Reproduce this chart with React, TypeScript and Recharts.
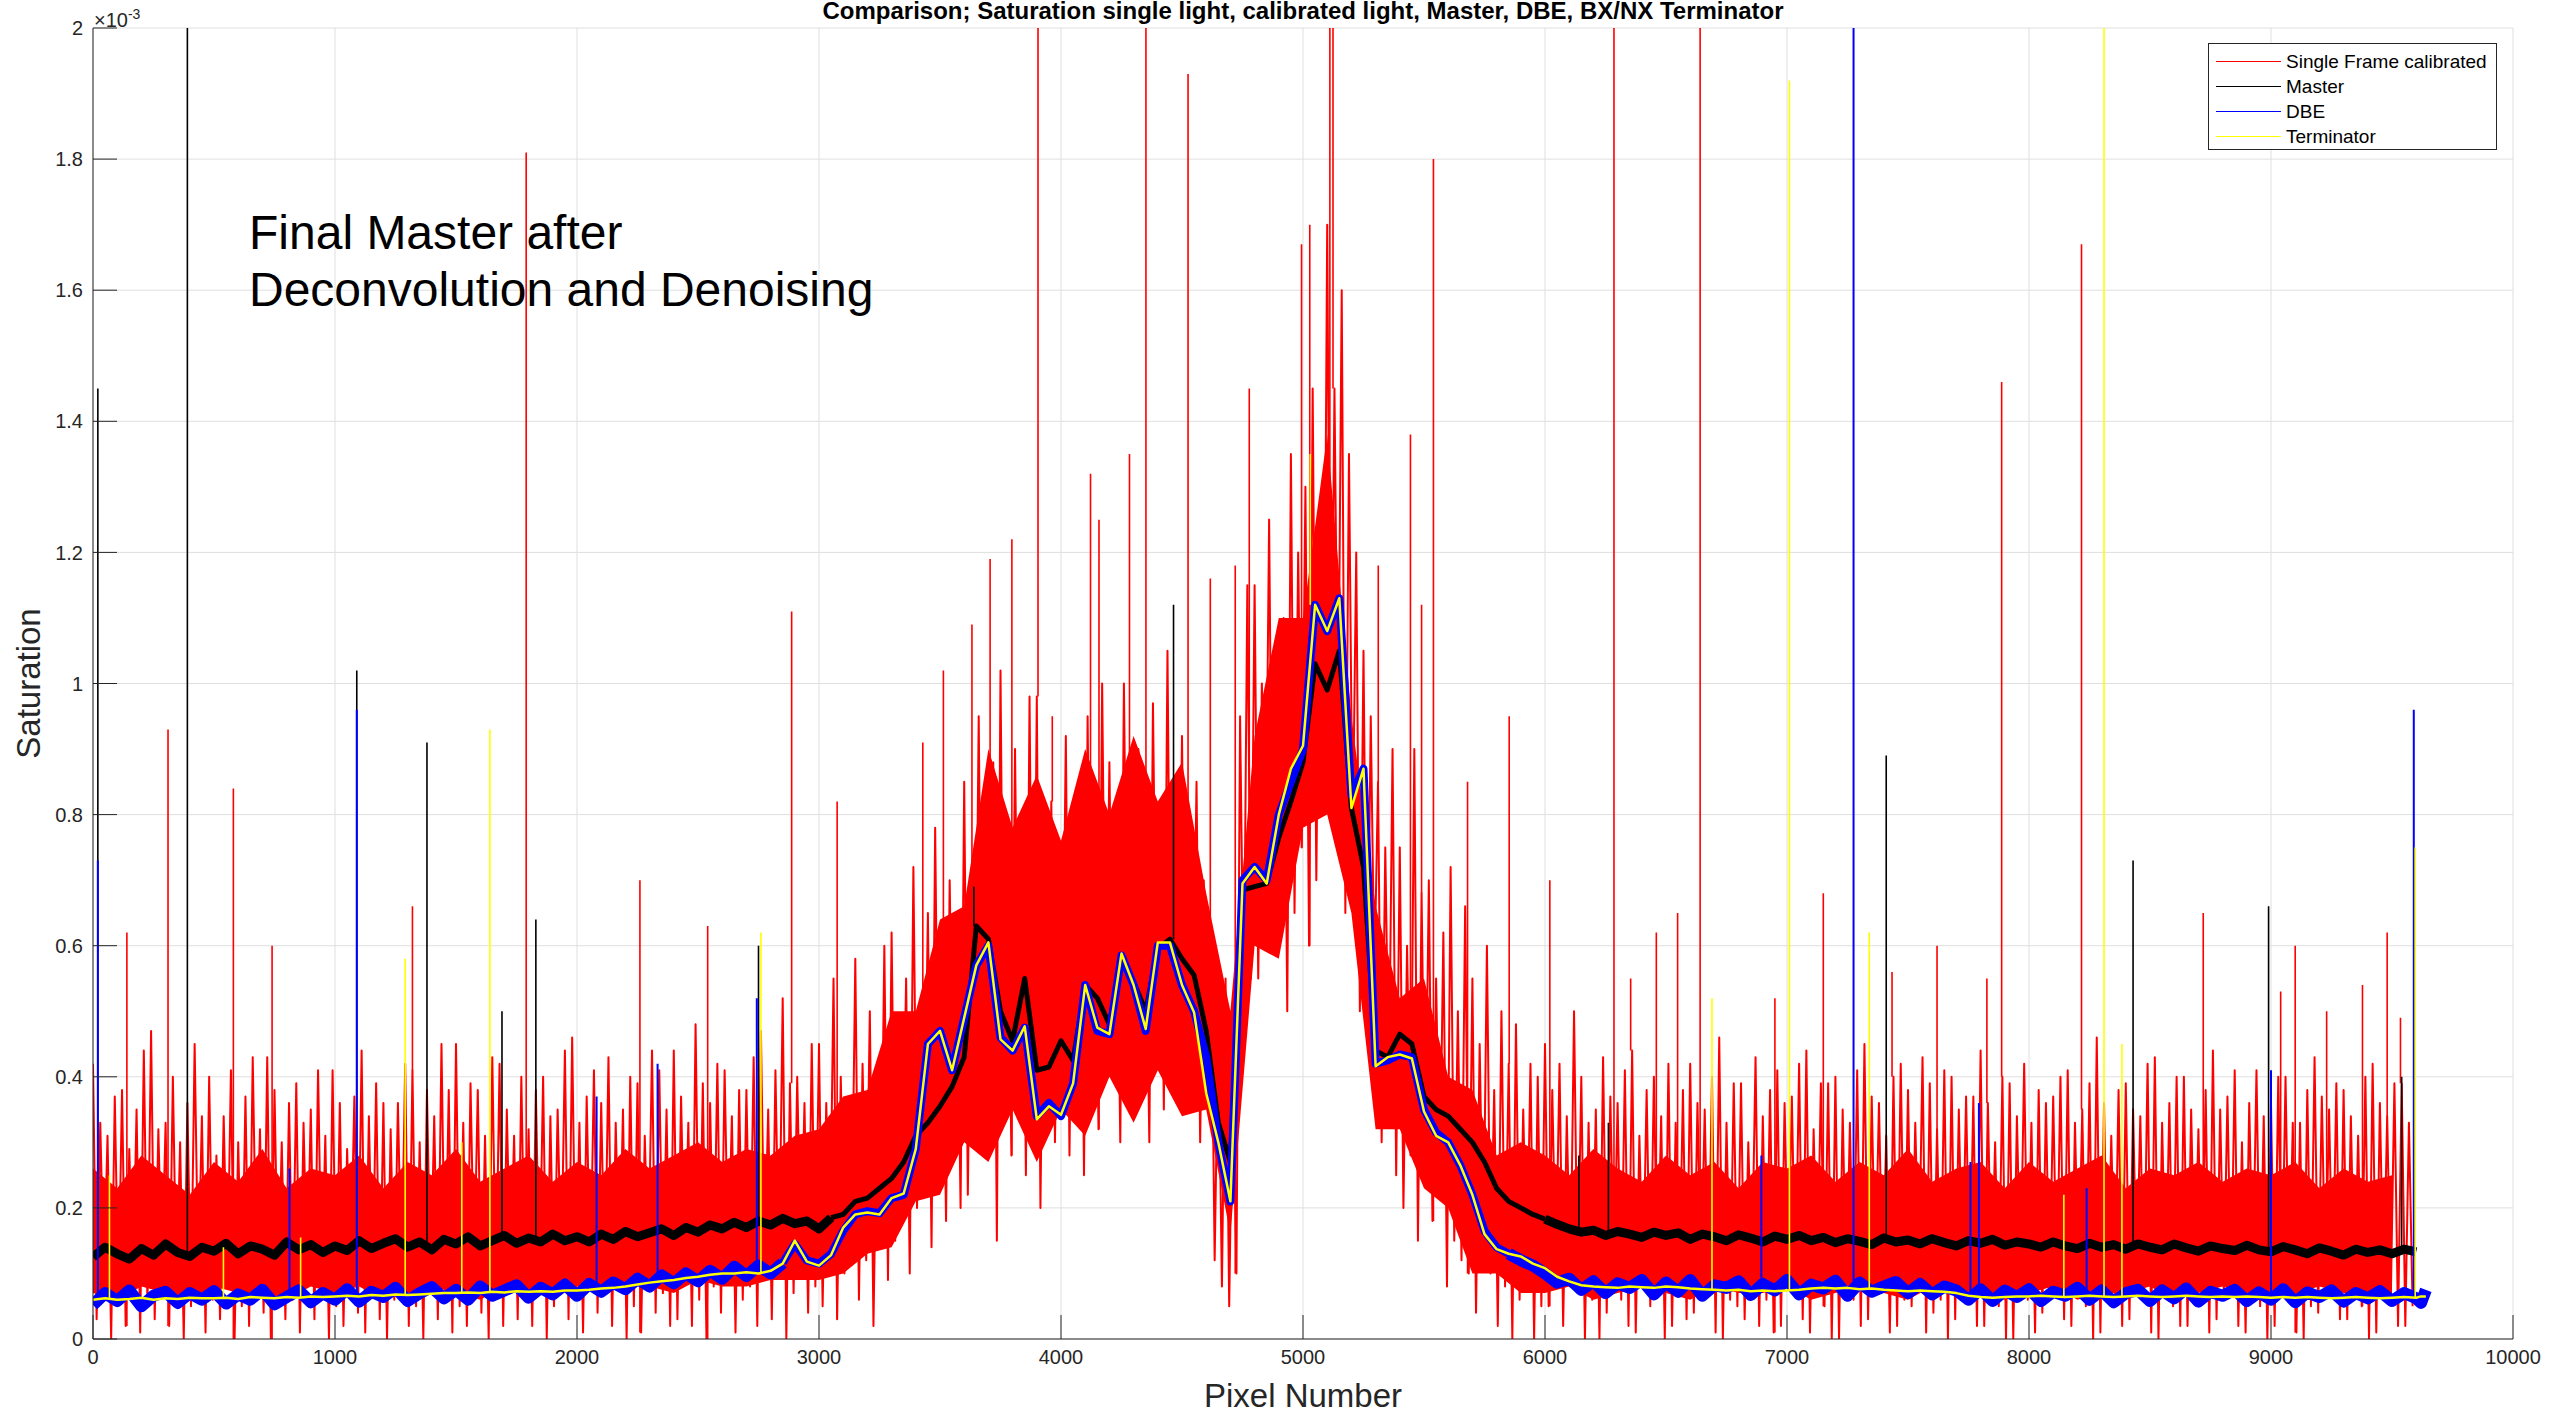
import React from "react";
import {
  ComposedChart,
  Line,
  Area,
  XAxis,
  YAxis,
  CartesianGrid,
  Legend,
  Label,
} from "recharts";

const W = 2554;
const H = 1415;
const FONT = '"Liberation Sans", Arial, Helvetica, sans-serif';
const AXIS = "#262626";
const GRID = "#dfdfdf";

// axis ticks (pixel number / saturation in 1e-3)
const xTicks = [0, 1000, 2000, 3000, 4000, 5000, 6000, 7000, 8000, 9000, 10000];
const yTicks = [0, 0.2, 0.4, 0.6, 0.8, 1, 1.2, 1.4, 1.6, 1.8, 2];

// legend order
const seriesNames = ["Single Frame calibrated", "Master", "DBE", "Terminator"];

// sampling steps (pixel numbers) of the value lists below
const RED_STEP = 15;
const BAND_STEP = 100;
const LINE_STEP = 50;

// Single Frame calibrated, x = 0..9585 every 15 px (values x1e-3)
const singleFrame = [
  0.42, 0.03, 0.33, 0.09, 0.31, 0.0, 0.37, 0.06, 0.38, 0.02, 0.29, 0.08, 0.35, 0.01, 0.44, 0.05, 0.47, 0.03, 0.32, 0.1,
  0.33, 0.02, 0.4, 0.07, 0.3, 0.0, 0.36, 0.05, 0.45, 0.09, 0.34, 0.01, 0.4, 0.06, 0.28, 0.03, 0.34, 0.08, 0.41, 0.0,
  0.3, 0.05, 0.37, 0.02, 0.43, 0.1, 0.32, 0.04, 0.43, 0.0, 0.38, 0.07, 0.3, 0.03, 0.36, 0.06, 0.39, 0.01, 0.33, 0.09,
  0.35, 0.03, 0.41, 0.08, 0.31, 0.0, 0.41, 0.05, 0.36, 0.02, 0.29, 0.1, 0.37, 0.04, 0.44, 0.01, 0.34, 0.07, 0.39, 0.03,
  0.36, 0.0, 0.32, 0.06, 0.36, 0.09, 0.42, 0.02, 0.41, 0.05, 0.3, 0.0, 0.38, 0.08, 0.34, 0.03, 0.45, 0.06, 0.38, 0.01,
  0.45, 0.05, 0.33, 0.02, 0.39, 0.1, 0.38, 0.04, 0.31, 0.0, 0.43, 0.07, 0.42, 0.02, 0.35, 0.09, 0.31, 0.03, 0.4, 0.06,
  0.32, 0.02, 0.38, 0.08, 0.4, 0.0, 0.34, 0.05, 0.35, 0.1, 0.44, 0.03, 0.46, 0.06, 0.33, 0.01, 0.37, 0.08, 0.41, 0.04,
  0.36, 0.07, 0.43, 0.02, 0.33, 0.09, 0.35, 0.0, 0.4, 0.05, 0.39, 0.01, 0.31, 0.11, 0.44, 0.04, 0.41, 0.07, 0.35, 0.02,
  0.44, 0.03, 0.37, 0.1, 0.33, 0.02, 0.48, 0.06, 0.39, 0.0, 0.36, 0.08, 0.42, 0.04, 0.41, 0.11, 0.34, 0.01, 0.38, 0.06,
  0.38, 0.08, 0.43, 0.02, 0.47, 0.11, 0.35, 0.03, 0.41, 0.1, 0.52, 0.0, 0.39, 0.07, 0.4, 0.12, 0.36, 0.04, 0.45, 0.08,
  0.45, 0.05, 0.36, 0.12, 0.55, 0.03, 0.4, 0.1, 0.33, 0.14, 0.58, 0.06, 0.42, 0.12, 0.5, 0.02, 0.38, 0.15, 0.6, 0.09,
  0.62, 0.15, 0.48, 0.22, 0.55, 0.1, 0.72, 0.2, 0.5, 0.28, 0.65, 0.14, 0.78, 0.25, 0.58, 0.18, 0.7, 0.3, 0.62, 0.2,
  0.85, 0.22, 0.7, 0.38, 0.95, 0.3, 0.78, 0.45, 0.88, 0.15, 1.02, 0.35, 0.72, 0.28, 0.9, 0.4, 0.8, 0.25, 0.98, 0.33,
  0.98, 0.2, 0.7, 0.36, 0.82, 0.3, 0.65, 0.42, 0.92, 0.28, 0.76, 0.38, 0.85, 0.25, 0.95, 0.4, 0.7, 0.32, 1.0, 0.45,
  0.88, 0.4, 0.72, 0.3, 1.0, 0.46, 0.8, 0.35, 0.9, 0.42, 0.68, 0.3, 0.97, 0.48, 0.82, 0.35, 1.05, 0.4, 0.75, 0.44,
  0.92, 0.38, 0.78, 0.45, 0.85, 0.3, 0.7, 0.35, 0.6, 0.12, 0.48, 0.08, 0.55, 0.05, 0.42, 0.1, 0.95, 0.5, 1.15, 0.55,
  1.15, 0.55, 1.0, 0.68, 1.25, 0.6, 1.05, 0.72, 1.1, 0.5, 1.35, 0.65, 1.2, 0.75, 1.3, 0.6, 1.45, 0.7, 1.25, 0.8,
  1.7, 0.8, 1.45, 0.9, 1.6, 0.65, 1.35, 0.75, 1.2, 0.5, 1.05, 0.45, 0.95, 0.55, 0.85, 0.3, 0.75, 0.38, 0.9, 0.25,
  0.75, 0.2, 0.6, 0.28, 0.9, 0.15, 0.68, 0.25, 0.7, 0.18, 0.55, 0.22, 0.62, 0.08, 0.72, 0.15, 0.5, 0.12, 0.66, 0.1,
  0.55, 0.04, 0.45, 0.12, 0.6, 0.1, 0.38, 0.02, 0.5, 0.08, 0.42, 0.0, 0.48, 0.06, 0.35, 0.1, 0.42, 0.0, 0.4, 0.05,
  0.45, 0.05, 0.38, 0.1, 0.42, 0.02, 0.34, 0.08, 0.5, 0.07, 0.4, 0.0, 0.33, 0.06, 0.35, 0.0, 0.43, 0.04, 0.37, 0.09,
  0.36, 0.06, 0.41, 0.02, 0.44, 0.01, 0.31, 0.08, 0.38, 0.05, 0.4, 0.08, 0.34, 0.0, 0.42, 0.02, 0.33, 0.07, 0.38, 0.03,
  0.42, 0.04, 0.36, 0.09, 0.35, 0.07, 0.4, 0.01, 0.46, 0.0, 0.33, 0.06, 0.39, 0.05, 0.39, 0.03, 0.3, 0.1, 0.43, 0.02,
  0.34, 0.06, 0.38, 0.01, 0.41, 0.02, 0.36, 0.09, 0.37, 0.07, 0.42, 0.03, 0.44, 0.01, 0.32, 0.08, 0.39, 0.05, 0.39, 0.0,
  0.4, 0.0, 0.35, 0.07, 0.33, 0.06, 0.41, 0.02, 0.45, 0.03, 0.37, 0.09, 0.36, 0.08, 0.31, 0.01, 0.4, 0.02, 0.42, 0.06,
  0.38, 0.05, 0.33, 0.1, 0.43, 0.01, 0.39, 0.04, 0.32, 0.06, 0.41, 0.0, 0.4, 0.03, 0.35, 0.08, 0.37, 0.07, 0.37, 0.02,
  0.44, 0.02, 0.36, 0.08, 0.3, 0.05, 0.4, 0.0, 0.39, 0.0, 0.34, 0.09, 0.42, 0.06, 0.33, 0.01, 0.38, 0.04, 0.36, 0.07,
  0.37, 0.07, 0.4, 0.03, 0.41, 0.02, 0.33, 0.08, 0.35, 0.05, 0.39, 0.0, 0.46, 0.01, 0.36, 0.06, 0.31, 0.06, 0.38, 0.02,
  0.39, 0.03, 0.35, 0.09, 0.34, 0.06, 0.42, 0.01, 0.43, 0.0, 0.33, 0.07, 0.36, 0.05, 0.4, 0.02, 0.4, 0.02, 0.35, 0.08,
  0.32, 0.06, 0.38, 0.01, 0.44, 0.03, 0.35, 0.07, 0.37, 0.07, 0.41, 0.02, 0.3, 0.01, 0.36, 0.09, 0.41, 0.05, 0.34, 0.0,
  0.36, 0.02, 0.4, 0.07, 0.4, 0.06, 0.33, 0.01, 0.33, 0.0, 0.38, 0.05, 0.43, 0.04, 0.37, 0.08, 0.35, 0.07, 0.39, 0.03,
  0.38, 0.03, 0.34, 0.06, 0.31, 0.05, 0.4, 0.0, 0.42, 0.01, 0.36, 0.07, 0.34, 0.06, 0.39, 0.02, 0.39, 0.02, 0.33, 0.05,
];

// isolated tall spikes of the single frame [pixel, value]
const singleFrameSpikes: [number, number][] = [
  [140, 0.62], [310, 0.93], [580, 0.84], [740, 0.6], [1320, 0.66], [1790, 1.81],
  [2260, 0.7], [2540, 0.63], [2887, 1.11], [3075, 0.82], [3429, 0.91], [3514, 1.02],
  [3632, 1.09], [3707, 1.19], [3797, 1.22], [3905, 2.05], [3964, 0.95], [4122, 1.32],
  [4157, 1.25], [4283, 1.35], [4351, 2.05], [4525, 1.93], [4617, 1.16], [4720, 1.18],
  [4778, 1.45], [4994, 1.67], [5028, 1.7], [5111, 2.05], [5124, 2.05], [5311, 1.18],
  [5444, 1.38], [5490, 1.12], [5539, 1.8], [5680, 0.85], [5852, 0.95], [6020, 0.7],
  [6285, 2.05], [6354, 0.55], [6460, 0.62], [6548, 0.65], [6641, 2.05], [6950, 0.52],
  [7150, 0.68], [7434, 0.56], [7620, 0.6], [7826, 0.55], [7887, 1.46], [8217, 1.67],
  [8720, 0.65], [9040, 0.53], [9100, 0.6], [9230, 0.5], [9378, 0.54], [9480, 0.62],
  [9535, 0.49],
];

// densest core of the single frame noise, x = 0..9500 every 100 px
const singleFrameCoreLow = [
  0.07, 0.06, 0.08, 0.07, 0.06, 0.08, 0.07, 0.07, 0.06, 0.08,
  0.07, 0.08, 0.06, 0.07, 0.08, 0.07, 0.06, 0.08, 0.07, 0.07,
  0.08, 0.07, 0.08, 0.08, 0.07, 0.09, 0.08, 0.08, 0.09, 0.09,
  0.09, 0.1, 0.13, 0.14, 0.21, 0.22, 0.3, 0.27, 0.35, 0.27,
  0.35, 0.31, 0.4, 0.33, 0.41, 0.34, 0.35, 0.16, 0.6, 0.58,
  0.78, 0.8, 0.65, 0.32, 0.32, 0.23, 0.2, 0.1, 0.1, 0.07,
  0.07, 0.08, 0.06, 0.07, 0.08, 0.07, 0.06, 0.08, 0.07, 0.07,
  0.08, 0.06, 0.07, 0.08, 0.07, 0.06, 0.08, 0.07, 0.07, 0.06,
  0.07, 0.08, 0.06, 0.07, 0.07, 0.08, 0.06, 0.07, 0.08, 0.07,
  0.06, 0.07, 0.08, 0.07, 0.06, 0.07,
];
const singleFrameCoreHigh = [
  0.26, 0.23, 0.28, 0.25, 0.22, 0.27, 0.24, 0.29, 0.23, 0.26,
  0.25, 0.28, 0.23, 0.27, 0.25, 0.29, 0.24, 0.26, 0.28, 0.24,
  0.27, 0.25, 0.29, 0.26, 0.28, 0.3, 0.27, 0.29, 0.28, 0.31,
  0.32, 0.37, 0.38, 0.5, 0.5, 0.64, 0.66, 0.9, 0.78, 0.86,
  0.76, 0.9, 0.8, 0.92, 0.82, 0.88, 0.68, 0.5, 0.92, 1.1,
  1.1, 1.38, 0.95, 0.66, 0.52, 0.55, 0.4, 0.38, 0.28, 0.3,
  0.28, 0.25, 0.29, 0.26, 0.24, 0.28, 0.25, 0.27, 0.23, 0.27,
  0.26, 0.28, 0.24, 0.27, 0.25, 0.29, 0.24, 0.26, 0.27, 0.23,
  0.27, 0.24, 0.26, 0.28, 0.23, 0.26, 0.25, 0.27, 0.24, 0.26,
  0.25, 0.27, 0.23, 0.26, 0.24, 0.25,
];

// Master, x = 0..9600 every 50 px
const master = [
  0.125, 0.14, 0.13, 0.122, 0.138, 0.128, 0.145, 0.132, 0.126, 0.14,
  0.134, 0.146, 0.13, 0.142, 0.137, 0.128, 0.148, 0.136, 0.144, 0.132,
  0.142, 0.135, 0.15, 0.138, 0.146, 0.153, 0.14, 0.148, 0.136, 0.152,
  0.145, 0.156, 0.142, 0.15, 0.158, 0.146, 0.154, 0.148, 0.16, 0.15,
  0.156, 0.148, 0.16, 0.152, 0.164, 0.156, 0.162, 0.168, 0.158, 0.17,
  0.163, 0.174, 0.168, 0.178, 0.17, 0.18, 0.174, 0.184, 0.176, 0.18,
  0.168, 0.185, 0.19, 0.21, 0.215, 0.23, 0.245, 0.27, 0.31, 0.33,
  0.355, 0.385, 0.43, 0.63, 0.61, 0.5, 0.455, 0.55, 0.41, 0.415,
  0.455, 0.425, 0.54, 0.52, 0.48, 0.58, 0.545, 0.5, 0.595, 0.61,
  0.58, 0.555, 0.47, 0.33, 0.27, 0.685, 0.69, 0.695, 0.765, 0.82,
  0.88, 1.03, 0.99, 1.05, 0.81, 0.72, 0.44, 0.43, 0.465, 0.45,
  0.37, 0.35, 0.34, 0.32, 0.3, 0.27, 0.23, 0.21, 0.2, 0.19,
  0.183, 0.175, 0.168, 0.163, 0.166, 0.158, 0.164, 0.16, 0.155, 0.163,
  0.158, 0.162, 0.152, 0.16, 0.156, 0.15, 0.159, 0.154, 0.148, 0.157,
  0.152, 0.158, 0.15, 0.155, 0.147, 0.153, 0.149, 0.144, 0.154, 0.148,
  0.151, 0.145, 0.153, 0.147, 0.142, 0.15, 0.146, 0.152, 0.143, 0.148,
  0.145, 0.14, 0.148, 0.142, 0.138, 0.146, 0.14, 0.144, 0.137, 0.145,
  0.14, 0.136, 0.145, 0.139, 0.134, 0.142, 0.138, 0.135, 0.143, 0.136,
  0.133, 0.141, 0.136, 0.13, 0.139, 0.134, 0.128, 0.137, 0.132, 0.136,
  0.13, 0.137, 0.133,
];
const masterSpikes: [number, number][] = [
  [20, 1.45], [390, 2.05], [1090, 1.02], [1380, 0.91], [1690, 0.5], [1830, 0.64],
  [2750, 0.6], [3640, 0.69], [4465, 1.12], [6140, 0.28], [6262, 0.33], [7410, 0.89],
  [8430, 0.73], [8990, 0.66], [9540, 0.4],
];

// DBE, x = 0..9600 every 50 px
const dbe = [
  0.052, 0.07, 0.058, 0.074, 0.05, 0.066, 0.072, 0.055, 0.07, 0.06,
  0.073, 0.054, 0.068, 0.06, 0.075, 0.053, 0.064, 0.074, 0.056, 0.07,
  0.06, 0.076, 0.057, 0.072, 0.064, 0.078, 0.058, 0.07, 0.079, 0.062,
  0.075, 0.06, 0.08, 0.066, 0.074, 0.082, 0.063, 0.078, 0.068, 0.083,
  0.066, 0.084, 0.072, 0.086, 0.076, 0.092, 0.08, 0.097, 0.085, 0.1,
  0.088, 0.104, 0.092, 0.11, 0.096, 0.112, 0.1, 0.116, 0.145, 0.12,
  0.115, 0.13, 0.165, 0.19, 0.195, 0.192, 0.215, 0.22, 0.29, 0.45,
  0.47, 0.41, 0.49, 0.57, 0.6, 0.46, 0.44, 0.475, 0.34, 0.36,
  0.34, 0.39, 0.54, 0.47, 0.465, 0.585, 0.54, 0.47, 0.6, 0.6,
  0.54, 0.5, 0.43, 0.3, 0.21, 0.7, 0.72, 0.7, 0.8, 0.85,
  0.9, 1.12, 1.08, 1.13, 0.83, 0.87, 0.42, 0.425, 0.434, 0.43,
  0.35, 0.315, 0.3, 0.265, 0.22, 0.165, 0.14, 0.13, 0.12, 0.112,
  0.1, 0.086, 0.092, 0.075, 0.088, 0.07, 0.085, 0.078, 0.09, 0.068,
  0.086, 0.072, 0.09, 0.066, 0.082, 0.078, 0.088, 0.067, 0.084, 0.074,
  0.09, 0.068, 0.083, 0.077, 0.089, 0.066, 0.086, 0.072, 0.08, 0.087,
  0.07, 0.084, 0.068, 0.08, 0.074, 0.06, 0.076, 0.058, 0.074, 0.064,
  0.076, 0.058, 0.072, 0.066, 0.078, 0.06, 0.074, 0.056, 0.07, 0.075,
  0.058, 0.074, 0.062, 0.077, 0.057, 0.072, 0.066, 0.075, 0.058, 0.071,
  0.06, 0.076, 0.056, 0.071, 0.064, 0.074, 0.057, 0.07, 0.062, 0.073,
  0.058, 0.07, 0.062,
];
const dbeTail: [number, number][] = [[9620, 0.055], [9640, 0.075]];
const dbeSpikes: [number, number][] = [
  [20, 0.73], [812, 0.26], [1090, 0.96], [2081, 0.37], [2333, 0.42], [2743, 0.52],
  [6894, 0.28], [7275, 2.05], [7758, 0.27], [7793, 0.36], [8238, 0.23], [9000, 0.41],
  [9590, 0.96],
];

// BX/NX Terminator, x = 0..9600 every 50 px
const terminator = [
  0.06, 0.062, 0.06, 0.061, 0.063, 0.06, 0.062, 0.061, 0.063, 0.062,
  0.062, 0.063, 0.061, 0.064, 0.063, 0.062, 0.064, 0.063, 0.065, 0.064,
  0.065, 0.066, 0.065, 0.067, 0.066, 0.068, 0.067, 0.068, 0.069, 0.07,
  0.07, 0.071, 0.07, 0.072, 0.071, 0.073, 0.072, 0.073, 0.072, 0.074,
  0.074, 0.075, 0.077, 0.078, 0.08, 0.083, 0.086, 0.088, 0.09, 0.093,
  0.095, 0.098, 0.1, 0.1, 0.102, 0.1, 0.104, 0.115, 0.15, 0.118,
  0.112, 0.128, 0.17, 0.19, 0.193, 0.19, 0.215, 0.222, 0.29, 0.45,
  0.47, 0.41, 0.49, 0.57, 0.605, 0.457, 0.44, 0.477, 0.335, 0.355,
  0.342, 0.39, 0.54, 0.475, 0.465, 0.588, 0.54, 0.473, 0.605, 0.605,
  0.54, 0.498, 0.375, 0.3, 0.21, 0.695, 0.72, 0.695, 0.8, 0.87,
  0.905, 1.12, 1.08, 1.13, 0.81, 0.87, 0.416, 0.43, 0.434, 0.428,
  0.347, 0.31, 0.3, 0.265, 0.22, 0.16, 0.137, 0.13, 0.126, 0.115,
  0.108, 0.095, 0.088, 0.082, 0.08, 0.079, 0.078, 0.08, 0.079, 0.078,
  0.08, 0.079, 0.077, 0.076, 0.075, 0.074, 0.075, 0.073, 0.074, 0.073,
  0.074, 0.075, 0.077, 0.078, 0.077, 0.078, 0.076, 0.077, 0.075, 0.074,
  0.073, 0.074, 0.073, 0.072, 0.07, 0.066, 0.064, 0.063, 0.064, 0.065,
  0.065, 0.066, 0.065, 0.064, 0.065, 0.066, 0.065, 0.064, 0.065, 0.066,
  0.065, 0.064, 0.065, 0.066, 0.065, 0.064, 0.065, 0.064, 0.065, 0.064,
  0.063, 0.064, 0.063, 0.064, 0.063, 0.062, 0.063, 0.064, 0.063, 0.062,
  0.063, 0.064, 0.063,
];
const terminatorTail: [number, number][] = [[9620, 0.065], [9640, 0.065]];
const terminatorSpikes: [number, number][] = [
  [68, 0.25], [539, 0.14], [858, 0.155], [1290, 0.58], [1524, 0.3], [1640, 0.93],
  [2760, 0.62], [5030, 1.35], [6690, 0.52], [7010, 1.92], [7340, 0.62], [8144, 0.22],
  [8310, 2.05], [8384, 0.45], [9596, 0.75],
];

type Pt = { x: number; v: number | null };

// samples from index `from` to `to` (inclusive) of a regularly sampled list
function buildRange(
  values: number[],
  step: number,
  from = 0,
  to = values.length - 1,
  extra: [number, number][] = []
): Pt[] {
  const pts: Pt[] = [];
  for (let i = from; i <= to; i++) pts.push({ x: i * step, v: values[i] });
  extra.forEach(([x, v]) => pts.push({ x, v }));
  return pts.sort((a, b) => a.x - b.x);
}

// vertical spike segments, rising from the series' own sample nearest to the spike
function buildSpikes(spikes: [number, number][], values: number[], step: number): Pt[] {
  return spikes.flatMap(([x, top]) => {
    const base = values[Math.min(values.length - 1, Math.round(x / step))];
    return [
      { x, v: base },
      { x, v: top },
      { x, v: null },
    ];
  });
}

const redData = buildRange(singleFrame, RED_STEP);
const redSpikes = buildSpikes(singleFrameSpikes, singleFrame, RED_STEP);
const redCore = singleFrameCoreLow.map((lo, i) => ({
  x: i * BAND_STEP,
  lo,
  hi: singleFrameCoreHigh[i],
}));

// the noisy flat stretches are drawn thicker than the structured middle part
const masterLeft = buildRange(master, LINE_STEP, 0, 61);
const masterMid = buildRange(master, LINE_STEP, 61, 120);
const masterRight = buildRange(master, LINE_STEP, 120, master.length - 1);
const masterSpikeData = buildSpikes(masterSpikes, master, LINE_STEP);

const dbeLeft = buildRange(dbe, LINE_STEP, 0, 57);
const dbeMid = buildRange(dbe, LINE_STEP, 57, 117);
const dbeRight = buildRange(dbe, LINE_STEP, 117, dbe.length - 1, dbeTail);
const dbeSpikeData = buildSpikes(dbeSpikes, dbe, LINE_STEP);

const terminatorData = buildRange(terminator, LINE_STEP, 0, terminator.length - 1, terminatorTail);
const terminatorSpikeData = buildSpikes(terminatorSpikes, terminator, LINE_STEP);

const fmtY = (v: number) => String(Number(v.toFixed(1)));

const LegendBox = ({ payload }: any) => {
  const items = (payload || [])
    .filter((p: any) => seriesNames.includes(p.value))
    .sort((a: any, b: any) => seriesNames.indexOf(a.value) - seriesNames.indexOf(b.value));
  return (
    <div
      style={{
        width: 289,
        height: 107,
        boxSizing: "border-box",
        border: `1px solid ${AXIS}`,
        background: "#fff",
        paddingTop: 5,
        fontFamily: FONT,
        fontSize: 19,
        color: "#000",
      }}
    >
      {items.map((p: any) => (
        <div key={p.value} style={{ display: "flex", alignItems: "center", height: 25 }}>
          <span
            style={{
              display: "inline-block",
              width: 65,
              marginLeft: 7,
              marginRight: 5,
              borderTop: `1.5px solid ${p.color}`,
            }}
          />
          <span>{p.value}</span>
        </div>
      ))}
    </div>
  );
};

export default function App() {
  const tickStyle = { fill: AXIS, fontSize: 20, fontFamily: FONT };
  const common = {
    dataKey: "v",
    type: "linear" as const,
    dot: false,
    isAnimationActive: false,
    strokeLinejoin: "round" as const,
  };
  return (
    <div style={{ position: "absolute", left: 0, top: 0, width: W, height: H, background: "#fff" }}>
      <ComposedChart
        width={W}
        height={H}
        margin={{ top: 28, right: 41, left: 0, bottom: 0 }}
      >
        <CartesianGrid stroke={GRID} strokeWidth={1} />
        <XAxis
          dataKey="x"
          type="number"
          domain={[0, 10000]}
          ticks={xTicks}
          interval={0}
          allowDataOverflow
          height={76}
          tickSize={-24}
          tickMargin={35}
          tick={tickStyle}
          axisLine={{ stroke: AXIS }}
          tickLine={{ stroke: AXIS }}
        >
          <Label
            content={({ viewBox }: any) => (
              <text
                x={viewBox.x + viewBox.width / 2}
                y={1395}
                textAnchor="middle"
                dominantBaseline="central"
                fill={AXIS}
                fontSize={33}
                fontFamily={FONT}
              >
                Pixel Number
              </text>
            )}
          />
        </XAxis>
        <XAxis
          xAxisId="top"
          orientation="top"
          dataKey="x"
          type="number"
          domain={[0, 10000]}
          ticks={xTicks}
          interval={0}
          height={0}
          tickSize={-24}
          tick={false}
          axisLine={{ stroke: AXIS }}
          tickLine={{ stroke: AXIS }}
        />
        <YAxis
          type="number"
          domain={[0, 2]}
          ticks={yTicks}
          interval={0}
          allowDataOverflow
          width={93}
          tickSize={-24}
          tickMargin={34}
          tick={tickStyle}
          tickFormatter={fmtY}
          axisLine={{ stroke: AXIS }}
          tickLine={{ stroke: AXIS }}
        >
          <Label
            content={({ viewBox }: any) => (
              <text
                x={28}
                y={viewBox.y + viewBox.height / 2}
                transform={`rotate(-90 28 ${viewBox.y + viewBox.height / 2})`}
                textAnchor="middle"
                dominantBaseline="central"
                fill={AXIS}
                fontSize={33}
                fontFamily={FONT}
              >
                Saturation
              </text>
            )}
          />
        </YAxis>
        <YAxis
          yAxisId="right"
          orientation="right"
          type="number"
          domain={[0, 2]}
          ticks={yTicks}
          interval={0}
          width={0}
          tickSize={-24}
          tick={false}
          axisLine={{ stroke: AXIS }}
          tickLine={{ stroke: AXIS }}
        />
        <Legend
          layout="vertical"
          align="center"
          verticalAlign="middle"
          wrapperStyle={{ left: 2208, top: 43, width: 289, height: 107 }}
          content={<LegendBox />}
        />
        <Area
          data={redCore}
          dataKey={(d: any) => [d.lo, d.hi]}
          type="linear"
          stroke="none"
          fill="#ff0000"
          fillOpacity={1}
          legendType="none"
          isAnimationActive={false}
        />
        <Line {...common} data={redData} name="Single Frame calibrated" stroke="#ff0000" strokeWidth={2} />
        <Line {...common} data={redSpikes} stroke="#ff0000" strokeWidth={1.6} legendType="none" />

        <Line {...common} data={masterMid} name="Master" stroke="#000000" strokeWidth={5} />
        <Line {...common} data={masterLeft} stroke="#000000" strokeWidth={9} legendType="none" />
        <Line {...common} data={masterRight} stroke="#000000" strokeWidth={9} legendType="none" />
        <Line {...common} data={masterSpikeData} stroke="#000000" strokeWidth={1.6} legendType="none" />

        <Line {...common} data={dbeMid} name="DBE" stroke="#0000ff" strokeWidth={8} />
        <Line {...common} data={dbeLeft} stroke="#0000ff" strokeWidth={12} legendType="none" />
        <Line {...common} data={dbeRight} stroke="#0000ff" strokeWidth={12} legendType="none" />
        <Line {...common} data={dbeSpikeData} stroke="#0000ff" strokeWidth={2} legendType="none" />

        <Line {...common} data={terminatorData} name="Terminator" stroke="#ffff00" strokeWidth={2.5} />
        <Line {...common} data={terminatorSpikeData} stroke="#ffff00" strokeWidth={1.6} legendType="none" />
      </ComposedChart>

      <div
        style={{
          position: "absolute",
          left: 93,
          width: 2420,
          top: 0,
          textAlign: "center",
          fontFamily: FONT,
          fontWeight: "bold",
          fontSize: 24,
          lineHeight: "22px",
          color: "#000",
        }}
      >
        Comparison; Saturation single light, calibrated light, Master, DBE, BX/NX Terminator
      </div>
      <div
        style={{
          position: "absolute",
          left: 94,
          top: 2,
          fontFamily: FONT,
          fontSize: 20,
          lineHeight: "24px",
          color: AXIS,
        }}
      >
        ×10<sup style={{ fontSize: 14, verticalAlign: "8px" }}>-3</sup>
      </div>
      <div
        style={{
          position: "absolute",
          left: 249,
          top: 204,
          fontFamily: FONT,
          fontSize: 48,
          lineHeight: "57px",
          color: "#000",
          whiteSpace: "nowrap",
        }}
      >
        Final Master after
        <br />
        Deconvolution and Denoising
      </div>
    </div>
  );
}
